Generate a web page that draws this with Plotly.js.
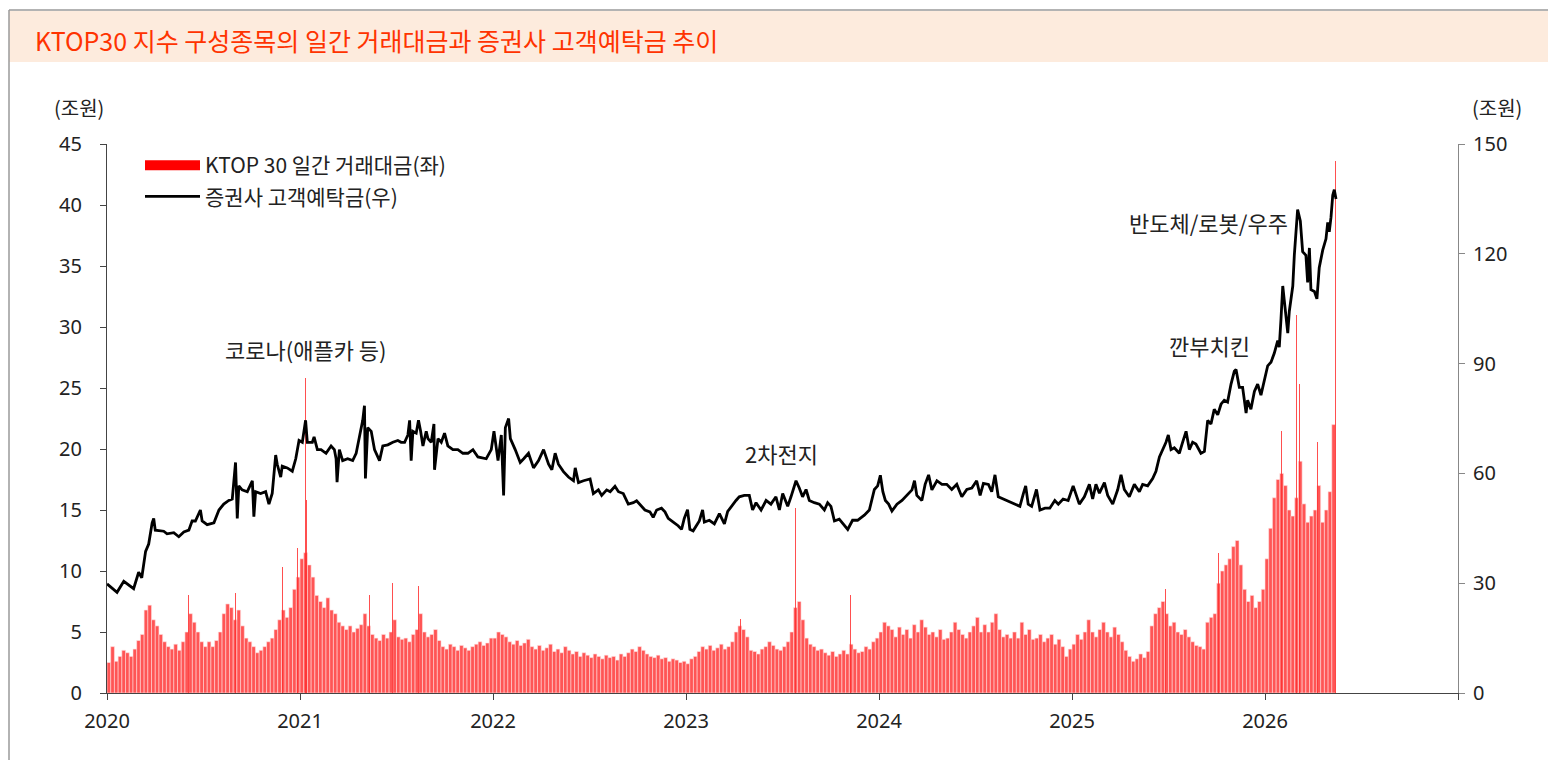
<!DOCTYPE html>
<html><head><meta charset="utf-8">
<script src="https://cdn.plot.ly/plotly-3.0.1.min.js"></script>
<style>html,body{margin:0;padding:0;background:#fff;} #chart{width:1548px;height:760px;}</style>
</head><body><div id="chart"></div>
<script>
// Customer deposits (조원, right axis), time in decimal years
const depositDates = [
2020.000,2020.052,2020.087,2020.138,2020.164,2020.180,2020.200,2020.216,2020.234,2020.242,2020.250,2020.294,2020.311,2020.346,2020.372,2020.398,2020.424,2020.441,2020.458,2020.484,2020.493,2020.519,2020.554,2020.580,2020.605,2020.631,2020.649,2020.666,2020.675,2020.683,2020.700,2020.727,2020.753,2020.761,2020.770,2020.796,2020.822,2020.839,2020.856,2020.874,2020.882,2020.900,2020.908,2020.934,2020.960,2020.978,2020.995,
2021.012,2021.029,2021.038,2021.064,2021.073,2021.090,2021.109,2021.135,2021.161,2021.178,2021.187,2021.192,2021.204,2021.221,2021.247,2021.273,2021.291,2021.308,2021.325,2021.334,2021.339,2021.351,2021.369,2021.386,2021.412,2021.429,2021.455,2021.481,2021.507,2021.524,2021.542,2021.559,2021.568,2021.576,2021.585,2021.602,2021.614,2021.625,2021.637,2021.654,2021.663,2021.680,2021.694,2021.697,2021.715,2021.732,2021.749,2021.766,2021.792,2021.818,2021.844,2021.870,2021.896,2021.922,2021.965,2021.991,
2022.005,2022.026,2022.043,2022.055,2022.064,2022.081,2022.090,2022.115,2022.141,2022.159,2022.184,2022.210,2022.236,2022.262,2022.288,2022.305,2022.322,2022.339,2022.365,2022.391,2022.417,2022.426,2022.443,2022.469,2022.503,2022.520,2022.546,2022.563,2022.589,2022.607,2022.632,2022.650,2022.675,2022.701,2022.727,2022.744,2022.770,2022.787,2022.813,2022.830,2022.848,2022.873,2022.891,2022.908,2022.934,2022.959,2022.977,2022.991,
2023.008,2023.020,2023.037,2023.052,2023.069,2023.086,2023.095,2023.121,2023.147,2023.173,2023.199,2023.216,2023.242,2023.259,2023.276,2023.302,2023.328,2023.345,2023.363,2023.389,2023.415,2023.440,2023.466,2023.484,2023.501,2023.527,2023.544,2023.570,2023.587,2023.604,2023.622,2023.639,2023.665,2023.691,2023.717,2023.734,2023.751,2023.769,2023.794,2023.820,2023.838,2023.863,2023.889,2023.924,2023.950,2023.976,2023.993,
2024.007,2024.020,2024.033,2024.050,2024.067,2024.093,2024.119,2024.145,2024.171,2024.184,2024.196,2024.222,2024.239,2024.257,2024.274,2024.300,2024.326,2024.351,2024.377,2024.403,2024.429,2024.455,2024.481,2024.506,2024.524,2024.541,2024.567,2024.584,2024.601,2024.618,2024.644,2024.670,2024.704,2024.730,2024.748,2024.760,2024.773,2024.791,2024.816,2024.834,2024.860,2024.885,2024.911,2024.929,2024.954,2024.980,
2025.006,2025.021,2025.038,2025.064,2025.090,2025.107,2025.124,2025.142,2025.168,2025.185,2025.211,2025.237,2025.254,2025.271,2025.297,2025.323,2025.349,2025.366,2025.392,2025.418,2025.435,2025.453,2025.470,2025.487,2025.499,2025.513,2025.530,2025.556,2025.573,2025.591,2025.608,2025.625,2025.642,2025.668,2025.686,2025.703,2025.720,2025.737,2025.755,2025.772,2025.789,2025.806,2025.824,2025.841,2025.850,2025.859,2025.867,2025.884,2025.902,2025.910,2025.927,2025.945,2025.962,2025.979,2025.996,
2026.014,2026.031,2026.048,2026.066,2026.074,2026.083,2026.092,2026.100,2026.109,2026.118,2026.126,2026.144,2026.152,2026.169,2026.183,2026.195,2026.212,2026.221,2026.230,2026.238,2026.256,2026.269,2026.281,2026.299,2026.316,2026.325,2026.333,2026.342,2026.351,2026.359,2026.368
];
const depositValues = [
29.8,27.5,30.5,28.5,33,31.5,38.7,40.7,46.5,47.7,44.5,44.2,43.5,43.8,42.7,44,44.5,47,47,50,47,46,46.5,50,51.6,52.6,53,63,47.7,56.6,55.5,55,58,48.2,55,54.5,55,51.6,54.5,65,62.5,59,62,61.5,60.6,64,69,
68.5,74.5,68.5,68.5,70,66.5,66.5,65.5,67.5,66.5,64,57.6,66.5,63.5,64,63.5,65.5,70,74.5,78.5,58.6,72.5,71.5,66.5,63.5,67.5,67.8,68.5,69,68.5,68.5,70.5,74.5,63.5,71.5,71,74.5,71.5,67.5,71.5,69.5,68.5,73.5,61,69.5,68.5,71,67.5,66.5,66.5,65.5,65.5,66.5,64.5,64,66.5,
71.5,63.5,70.5,54,72.5,75,69.5,66.5,63,64,65.5,61.5,63.5,66.5,62.5,61,65.5,62.5,60.5,59,58,61.5,57.5,58,58.5,54.5,55.5,54,55.5,55,56.5,55,54.5,51.6,52,52.5,51,50,49.5,48,50,50.5,49.5,47.7,46.7,45.7,44.7,47.7,
50.1,44.7,44.3,45.6,47,50,46.7,47.2,46.2,49,46.2,49.6,51.6,52.6,53.6,54,54,50,52,50,52.6,51.6,53.6,50,54.5,51,53.6,58,56,53.6,55.6,52.6,52,51.6,50,52,51,47,47.5,46,44.7,47.2,47.2,48.6,50,55.6,56.6,
59.5,55,52.6,51.6,49.7,51.6,52.6,54,55.5,58,54,52.6,57,59.6,55.5,58,57,57,55.6,57,53.6,55.6,56,58,54,57.3,57,55,59.6,53.6,53,52.6,51.6,51,54.5,56.6,51.6,51,55.6,50,50.5,50.5,52.6,51.6,53,52.6,
56.6,54,51.6,53.6,57,53,57,54.6,57.5,54,51.6,55.6,59.6,55.6,53.6,57,55,57,56.6,58.6,60.6,64.5,66.5,68.5,70.5,66.5,67,65.5,68.5,71.5,66.5,68.5,68,65.5,66,74.5,73.5,77.5,76,78.9,80,79.5,84.4,87.9,88.4,85.4,83.5,83.5,76.5,80,77.5,82.4,84.4,81.4,85.4,
89.4,90.4,92.8,96.3,94.5,102.3,111.2,107.2,102.3,98.3,104.3,111.2,119.7,132.1,129,120.6,119.6,112.2,121.6,110.2,109.7,107.7,116.2,121,124.1,128.6,126,130,136,137.5,135
];

// KTOP 30 trading value (조원, left axis): weekly levels per year
const volume2020 = [2.5,3.8,2.6,3.0,3.5,3.3,3.0,3.6,4.3,4.8,6.8,7.2,6.0,5.5,4.8,4.2,3.8,3.6,4.0,3.5,4.2,5.0,6.5,5.8,5.0,4.2,3.8,4.2,3.8,4.3,5.0,6.5,7.3,7.0,6.0,6.8,5.5,4.5,4.2,3.8,3.3,3.5,3.8,4.2,4.5,5.2,6.0,6.8,6.2,7.0,8.5,9.5];
const volume2021 = [11.0,11.5,10.5,9.5,8.0,7.5,7.0,7.8,6.8,6.5,5.8,5.5,5.2,5.5,5.0,5.3,5.6,6.5,5.5,4.8,4.5,4.3,4.8,4.5,5.0,6.0,4.6,4.4,4.5,4.2,4.8,5.2,6.5,5.0,4.6,4.8,5.2,4.3,3.8,3.6,4.0,3.8,3.5,3.9,3.7,3.5,3.8,4.0,4.2,3.9,4.1,4.5];
const volume2022 = [4.5,5.0,4.8,4.6,4.2,4.0,4.3,3.9,4.1,4.4,3.8,3.6,3.9,3.5,3.7,4.0,3.4,3.6,3.3,3.8,3.5,3.2,3.4,3.0,3.3,3.1,2.9,3.2,3.0,2.8,3.1,2.9,3.0,2.7,3.2,3.0,3.3,3.6,3.4,3.8,3.5,3.2,3.0,2.9,3.1,2.8,2.9,2.6,2.8,2.7,2.5,2.6];
const volume2023 = [2.4,2.8,3.0,3.4,3.8,3.6,3.9,3.5,3.7,4.0,3.6,3.8,4.2,5.0,5.5,5.2,4.6,3.5,3.4,3.2,3.6,3.8,4.2,3.9,3.6,3.5,3.8,4.2,5.0,7.0,7.5,6.0,4.5,4.0,3.8,3.5,3.6,3.3,3.1,3.4,3.0,3.2,3.5,3.2,4.0,3.6,3.3,3.4,3.8,3.6,4.2,4.5];
const volume2024 = [5.0,5.8,5.5,5.2,4.6,5.4,4.8,5.2,4.5,5.6,5.0,6.0,5.4,4.8,5.0,4.6,5.2,4.4,4.5,5.0,5.8,5.2,4.8,4.5,5.0,5.5,6.2,5.0,5.6,5.0,5.8,6.5,5.2,4.6,4.8,4.5,5.0,4.5,5.8,4.8,5.2,4.4,4.5,4.8,4.2,4.5,4.8,4.0,4.4,3.8,3.0,3.6];
const volume2025 = [4.0,4.8,4.4,5.0,6.0,5.0,4.6,5.2,5.8,5.0,4.6,5.4,4.8,4.2,3.5,3.0,2.6,2.8,3.2,2.9,3.4,5.5,6.5,7.0,7.5,6.5,5.5,5.8,5.0,4.8,5.2,4.6,4.2,3.9,3.8,3.6,5.8,6.2,6.5,9.0,10.0,10.5,11.0,12.0,12.5,10.5,8.5,7.5,8.0,7.0,7.5,8.5];
const volume2026 = [11.0,13.5,16.0,17.5,18.0,17.0,15.0,14.5,16.0,19.0,15.5,14.0,14.5,15.0,17.0,14.0,15.0,16.5,22.0];
// Single-day spikes of trading value
const peakDates  = [2020.424,2020.666,2020.908,2020.986,2021.030,2021.034,2021.161,2021.360,2021.481,2021.614,2023.281,2023.566,2023.570,2023.851,2024.036,2024.601,2025.078,2025.484,2025.760,2025.850,2026.085,2026.165,2026.180,2026.273,2026.347,2026.365];
const peakValues = [8.0,8.2,10.3,11.9,25.8,15.8,10.4,8.0,9.0,8.8,6.1,15.2,10.9,8.0,7.3,9.7,7.3,8.5,11.5,15.3,21.5,31.0,25.3,20.6,34.0,43.6];

const yearTicks  = [2020,2021,2022,2023,2024,2025,2026,2027];
const yearLabels = ['2020','2021','2022','2023','2024','2025','2026',''];

const volumeByYear = [[2020,volume2020],[2021,volume2021],[2022,volume2022],[2023,volume2023],[2024,volume2024],[2025,volume2025],[2026,volume2026]];
const weekX = [], weekY = [];
volumeByYear.forEach(([yr, arr]) => arr.forEach((v, i) => { weekX.push(yr + (i + 0.5) / 52); weekY.push(v); }));

const RED = '#FF3030';
const KFONT = '"Noto Sans CJK KR", "Noto Sans", sans-serif';
const NFONT = '"Noto Sans", "Open Sans", sans-serif';

const traces = [
  {type:'bar', x:weekX, y:weekY, width:1/52, marker:{color:RED, opacity:0.82, line:{width:0.6, color:'#ffdede'}}, showlegend:false, hoverinfo:'skip'},
  {type:'bar', x:peakDates, y:peakValues, width:0.004, marker:{color:RED, opacity:0.85, line:{width:0}}, showlegend:false, hoverinfo:'skip'},
  {type:'scatter', mode:'lines', x:[null], y:[null], line:{color:'#FF0000', width:13}, name:'KTOP 30 일간 거래대금(좌)', legendgroup:'a'},
  {type:'scatter', mode:'lines', x:depositDates, y:depositValues, yaxis:'y2', line:{color:'#000', width:2.8}, name:'증권사 고객예탁금(우)', legendgroup:'b'}
];

const px = v => (v - 107) / 1351;
const py = v => (693 - v) / 549;

const layout = {
  width:1548, height:760,
  margin:{l:107, r:90, t:144, b:67, pad:0},
  paper_bgcolor:'#fff', plot_bgcolor:'#fff',
  font:{family:KFONT, size:20, color:'#222'},
  barmode:'overlay', bargap:0,
  showlegend:true,
  legend:{x:px(140), y:py(145), xanchor:'left', yanchor:'top', bgcolor:'rgba(0,0,0,0)', font:{size:21, color:'#222'}, itemwidth:55, traceorder:'grouped', tracegroupgap:1},
  xaxis:{range:[2020,2027], tickmode:'array', tickvals:yearTicks, ticktext:yearLabels, ticks:'outside', ticklen:6, tickcolor:'#444', showline:true, linecolor:'#444', linewidth:1, showgrid:false, zeroline:false, tickfont:{family:NFONT, size:20, color:'#222'}, ticklabelstandoff:4},
  yaxis:{range:[0,45], tick0:0, dtick:5, ticks:'outside', ticklen:6, tickcolor:'#444', showline:true, linecolor:'#444', linewidth:1, showgrid:false, zeroline:false, tickfont:{family:NFONT, size:20, color:'#222'}, ticklabelstandoff:14},
  yaxis2:{range:[0,150], tick0:0, dtick:30, overlaying:'y', side:'right', ticks:'outside', ticklen:6, tickcolor:'#888', showline:true, linecolor:'#888', linewidth:1, showgrid:false, zeroline:false, tickfont:{family:NFONT, size:20, color:'#222'}, ticklabelstandoff:4},
  shapes:[
    {type:'rect', xref:'paper', yref:'paper', x0:px(9), x1:px(1548), y0:py(62), y1:py(11), fillcolor:'#FDEBDD', line:{width:0}, layer:'below'},
    {type:'line', xref:'paper', yref:'paper', x0:px(9), x1:px(1548), y0:py(10), y1:py(10), line:{color:'#9a9a9a', width:1.5}},
    {type:'line', xref:'paper', yref:'paper', x0:px(9), x1:px(9), y0:py(10), y1:py(760), line:{color:'#9a9a9a', width:1.5}}
  ],
  annotations:[
    {xref:'paper', yref:'paper', x:px(33), y:py(40), xanchor:'left', yanchor:'middle', showarrow:false, text:'KTOP30 지수 구성종목의 일간 거래대금과 증권사 고객예탁금 추이', font:{size:25, color:'#FF3300'}},
    {xref:'paper', yref:'paper', x:px(79), y:py(107), xanchor:'center', yanchor:'middle', showarrow:false, text:'(조원)'},
    {xref:'paper', yref:'paper', x:px(1497), y:py(107), xanchor:'center', yanchor:'middle', showarrow:false, text:'(조원)'},
    {xref:'x', yref:'y', x:2021.026, y:28.2, showarrow:false, text:'코로나(애플카 등)', font:{size:22}},
    {xref:'x', yref:'y', x:2023.497, y:19.67, showarrow:false, text:'2차전지', font:{size:22}},
    {xref:'x', yref:'y', x:2025.715, y:28.5, showarrow:false, text:'깐부치킨', font:{size:22}},
    {xref:'x', yref:'y', x:2025.705, y:38.6, showarrow:false, text:'반도체/로봇/우주', font:{size:22}},
    {xref:'x', yref:'y', x:2026.373, y:45.4, showarrow:false, text:'반도체/로봇', font:{size:22}}
  ]
};

Plotly.newPlot('chart', traces, layout, {staticPlot:true, displayModeBar:false});
</script>
</body></html>
